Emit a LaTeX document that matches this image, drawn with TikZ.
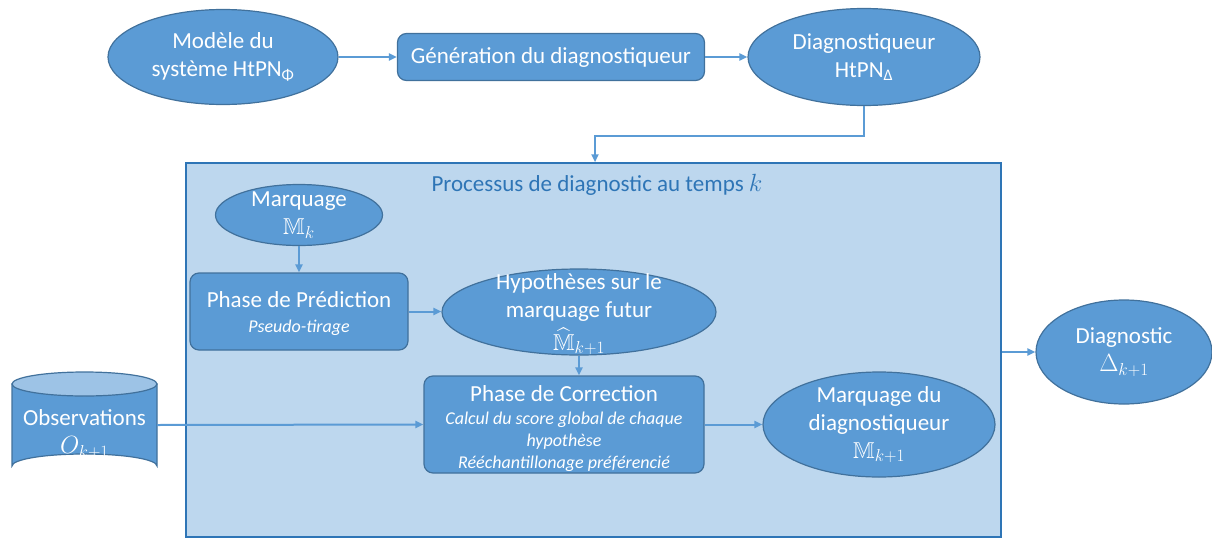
\documentclass[tikz,border=0pt]{standalone}
\usepackage{amsmath}
\usepackage{amssymb}
\usepackage{fontspec}
\setmainfont{Carlito}
\usetikzlibrary{shapes.geometric,arrows.meta}
\definecolor{shapefill}{HTML}{5B9BD5}
\definecolor{shapeline}{HTML}{41719C}
\definecolor{procfill}{HTML}{BDD7EE}
\definecolor{procline}{HTML}{2E75B6}
\definecolor{titlec}{HTML}{2E75B6}
\definecolor{cyltop}{HTML}{9DC3E6}
\definecolor{arrc}{HTML}{5B9BD5}
\tikzset{
  ell/.style={ellipse, draw=shapeline, fill=shapefill, line width=1.2pt, inner sep=0pt},
  lbl/.style={text=white, align=center, inner sep=0pt, font=\fontsize{23}{28}\selectfont},
  rbox/.style={rectangle, rounded corners=9pt, draw=shapeline, fill=shapefill, line width=1.2pt,
     text=white, align=center, inner sep=0pt, font=\fontsize{23}{28}\selectfont},
  arr/.style={draw=arrc, line width=2pt, -{Triangle[length=8pt,width=7pt]}},
}
\newcommand{\smallit}{\fontsize{18}{22}\selectfont\itshape}
\begin{document}
\begin{tikzpicture}[x=1pt,y=-1pt]
\useasboundingbox (0,0) rectangle (1212,538);

% top row
\node[ell, minimum width=230pt, minimum height=95pt,
  label={[lbl]center:Modèle du\\système HtPN\textsubscript{Φ}}] (model) at (223,57) {};
\node[rbox, minimum width=307pt, minimum height=47pt] (gen) at (551,57) {Génération du diagnostiqueur};
\node[ell, minimum width=232pt, minimum height=97pt,
  label={[lbl]center:Diagnostiqueur\\HtPN\textsubscript{Δ}}] (diagq) at (864,57) {};

% process box
\node[rectangle, draw=procline, fill=procfill, line width=1.5pt,
  minimum width=815pt, minimum height=374pt, inner sep=0pt] (proc) at (593.5,350) {};
\node[text=titlec, font=\fontsize{23}{28}\selectfont, inner sep=0pt] (title) at (597,185)
  {Processus de diagnostic au temps $k$};

\coordinate (px) at (595,0);

\node[ell, minimum width=167pt, minimum height=61pt,
  label={[lbl]center:Marquage\\$\mathbb{M}_k$}] (mk) at (299,215) {};
\node[rbox, minimum width=218pt, minimum height=77pt,
  label={[lbl, yshift=-2pt]center:Phase de Prédiction\\[-3pt]\smallit Pseudo-tirage}] (pred) at (299,311.5) {};
\node[ell, minimum width=274pt, minimum height=86pt,
  label={[lbl, yshift=-2pt]center:Hypothèses sur le\\marquage futur\\[5pt]$\widehat{\mathbb{M}}_{k+1}$}] (hyp) at (579,312) {};
\node[rbox, minimum width=280pt, minimum height=97pt,
  label={[lbl, yshift=-6pt]center:Phase de Correction\\[-5pt]{\smallit\begin{tabular}[t]{@{}c@{}}Calcul du score global de chaque\\hypothèse\\Rééchantillonage préférencié\end{tabular}}}] (corr) at (564,424.5) {};
\node[ell, minimum width=232pt, minimum height=105pt,
  label={[lbl]center:Marquage du\\diagnostiqueur\\$\mathbb{M}_{k+1}$}] (mdiag) at (879,424.5) {};

% diagnostic output
\node[ell, minimum width=176pt, minimum height=104pt,
  label={[lbl]center:Diagnostic\\$\Delta_{k+1}$}] (diag) at (1124,352) {};

% observations cylinder
\path[draw=shapeline, fill=shapefill, line width=1.2pt]
  (12,384) -- (12,466) arc[start angle=180, end angle=0, x radius=72.5pt, y radius=12pt]
  -- (157,384) -- cycle;
\path[draw=shapeline, fill=cyltop, line width=1.2pt]
  (84.5,384) ellipse [x radius=72.5pt, y radius=12pt];
\node[rectangle, minimum width=145pt, minimum height=106pt, inner sep=0pt,
  label={[lbl, yshift=-9pt]center:Observations\\$O_{k+1}$}] (obs) at (84.5,425) {};

% connectors
\draw[arr] (model.east) -- (gen.west);
\draw[arr] (gen.east) -- (diagq.west);
\draw[arr] (diagq.south) -- ++(0,30) -| (proc.north -| px);
\draw[arr] (mk.south) -- (mk.south |- pred.north);
\draw[arr] (pred.east) -- (pred.east -| hyp.west);
\draw[arr] (hyp.south) -- (hyp.south |- corr.north);
\draw[arr] (obs.east) -- (corr.west);
\draw[arr] (corr.east) -- (mdiag.west);
\draw[arr] (proc.east |- diag.west) -- (diag.west);
\end{tikzpicture}
\end{document}
